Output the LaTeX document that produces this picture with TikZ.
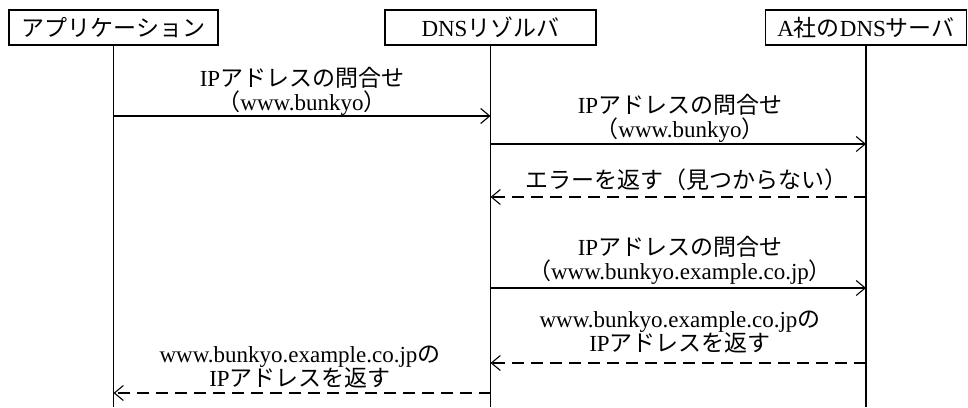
\documentclass[tikz,border=0pt]{standalone}
\usepackage{fontspec}
\setmainfont{Liberation Serif}
\newfontfamily\jp{Noto Sans CJK JP}
\usetikzlibrary{arrows.meta, positioning}

\begin{document}
\begin{tikzpicture}[
    x=1pt, y=-1pt,
    actor style/.style={draw=black, line width=1.2pt, minimum height=35pt, inner sep=2pt, font=\fontsize{23}{26}\selectfont},
    life style/.style={line width=1.1pt},
    msg style/.style={line width=1.1pt, -{Straight Barb[length=9pt, width=15pt]}},
    reply style/.style={msg style, dash pattern=on 12pt off 7pt},
    label style/.style={align=center, inner sep=0pt, font=\fontsize{23}{24}\selectfont}
]
        \useasboundingbox (0,0) rectangle (968,407);

        % actors
        \node[actor style, minimum width=209pt] (app) at (113.5, 27.5) {\jp アプリケーション};
        \node[actor style, minimum width=211pt] (res) at (490.5, 27.5) {DNS{\jp リゾルバ}};
        \node[actor style, minimum width=201pt] (srv) at (866, 27.5) {A{\jp 社の}DNS{\jp サーバ}};

        \coordinate (app end) at (app.south |- 0,407);
        \coordinate (res end) at (res.south |- 0,407);
        \coordinate (srv end) at (srv.south |- 0,407);

        \draw[life style] (app) -- (app end);
        \draw[life style] (res) -- (res end);
        \draw[life style] (srv) -- (srv end);

        % message end points
        \coordinate (app 1) at (app.south |- 0,116);
        \coordinate (res 1) at (res.south |- 0,116);
        \coordinate (res 2) at (res.south |- 0,144);
        \coordinate (srv 2) at (srv.south |- 0,144);
        \coordinate (srv 3) at (srv.south |- 0,197);
        \coordinate (res 3) at (res.south |- 0,197);
        \coordinate (res 4) at (res.south |- 0,288);
        \coordinate (srv 4) at (srv.south |- 0,288);
        \coordinate (srv 5) at (srv.south |- 0,363);
        \coordinate (res 5) at (res.south |- 0,363);
        \coordinate (res 6) at (res.south |- 0,393);
        \coordinate (app 6) at (app.south |- 0,393);

        \draw[msg style] (app 1) -- (res 1);
        \draw[msg style] (res 2) -- (srv 2);
        \draw[reply style] (srv 3) -- (res 3);
        \draw[msg style] (res 4) -- (srv 4);
        \draw[reply style] (srv 5) -- (res 5);
        \draw[reply style] (res 6) -- (app 6);

        % labels
        \node[label style] (query 1) at (302, 91) {IP{\jp アドレスの問合せ}\\{\jp （}www.bunkyo{\jp ）}};
        \node[label style] (query 2) at (680, 118) {IP{\jp アドレスの問合せ}\\{\jp （}www.bunkyo{\jp ）}};
        \node[label style] (error 3) at (686, 180) {\jp エラーを返す（見つからない）};
        \node[label style] (query 4) at (680, 260) {IP{\jp アドレスの問合せ}\\{\jp （}www.bunkyo.example.co.jp{\jp ）}};
        \node[label style] (answer 5) at (680, 332) {www.bunkyo.example.co.jp{\jp の}\\IP{\jp アドレスを返す}};
        \node[label style] (answer 6) at (300, 367) {www.bunkyo.example.co.jp{\jp の}\\IP{\jp アドレスを返す}};
    \end{tikzpicture}
\end{document}
